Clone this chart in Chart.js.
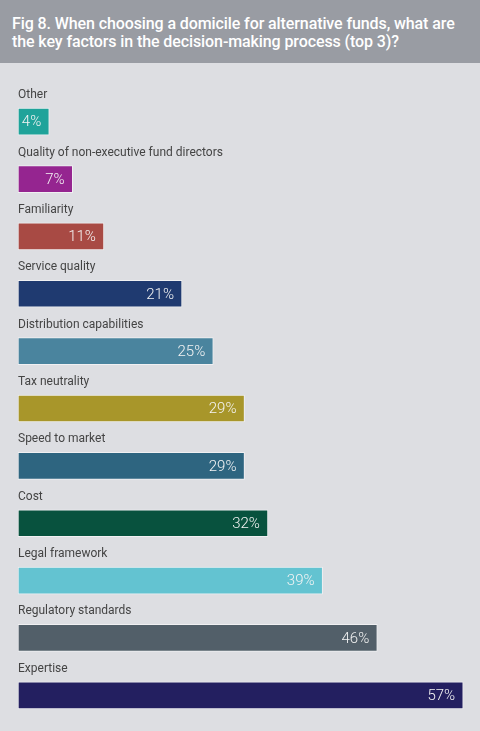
<!DOCTYPE html>
<html>
<head>
<meta charset="utf-8">
<script src="https://cdn.jsdelivr.net/npm/chart.js@4"></script>
<style>
  html, body { margin: 0; padding: 0; background: #dddee2; }
  .header {
    height: 63px; background: #999ca3; color: #fff;
    font-family: Roboto, sans-serif; font-size: 16px; font-weight: 500;
    line-height: 18px; padding: 15px 0 0 12px; box-sizing: border-box;
    letter-spacing: -0.1px;
  }
  .wrap { position: relative; width: 480px; height: 668px; }
</style>
</head>
<body>
<div class="header">Fig 8. When choosing a domicile for alternative funds, what are<br>the key factors in the decision-making process (top 3)?</div>
<div class="wrap"><canvas id="chart"></canvas></div>
<script>
// survey answers, top to bottom
const categories = [
  'Other', 'Quality of non-executive fund directors', 'Familiarity', 'Service quality',
  'Distribution capabilities', 'Tax neutrality', 'Speed to market', 'Cost',
  'Legal framework', 'Regulatory standards', 'Expertise'
];
const values = [4, 7, 11, 21, 25, 29, 29, 32, 39, 46, 57];
const barColors = [
  '#1fa39a', '#952590', '#a84a44', '#1f3a70', '#4a849e', '#a8962a',
  '#2e6580', '#08523e', '#63c3d1', '#525f69', '#231f60'
];

// category name above each bar, value inside at the right end
const barLabels = {
  id: 'barLabels',
  afterDatasetsDraw(chart) {
    const ctx = chart.ctx;
    const meta = chart.getDatasetMeta(0);
    ctx.save();
    meta.data.forEach((bar, i) => {
      const top = bar.y - bar.height / 2;
      ctx.font = '12px Roboto';
      ctx.fillStyle = '#444';
      ctx.textAlign = 'left';
      ctx.textBaseline = 'alphabetic';
      ctx.fillText(categories[i], bar.base, top - 10);
      ctx.font = '300 15px Roboto';
      ctx.fillStyle = '#f4f4f4';
      ctx.textAlign = 'right';
      ctx.textBaseline = 'middle';
      ctx.fillText(values[i] + '%', bar.x - 8, bar.y + 1);
    });
    ctx.restore();
  }
};

new Chart(document.getElementById('chart'), {
  type: 'bar',
  data: {
    labels: categories,
    datasets: [{
      data: values,
      backgroundColor: barColors,
      borderColor: 'rgba(255,255,255,0.55)',
      borderWidth: 1,
      borderSkipped: false,
      barThickness: 27,
    }],
  },
  options: {
    indexAxis: 'y',
    responsive: true,
    maintainAspectRatio: false,
    animation: false,
    layout: { padding: { left: 18, right: 9, top: 30, bottom: 7 } },
    plugins: { legend: { display: false }, tooltip: { enabled: false } },
    scales: {
      x: { display: false, min: 0, max: 58 },
      y: { display: false },
    },
  },
  plugins: [barLabels],
});
</script>
</body>
</html>
